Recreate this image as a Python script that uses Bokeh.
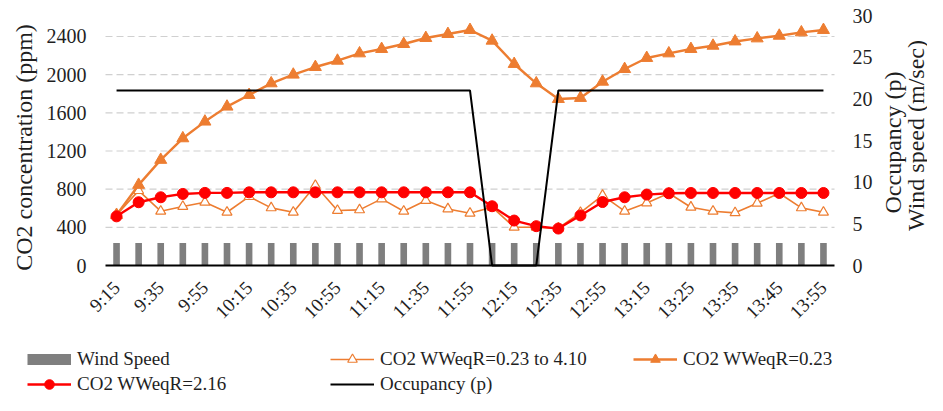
import math
from bokeh.plotting import figure
from bokeh.models import (ColumnDataSource, Range1d, LinearAxis, FixedTicker,
                          Legend, LegendItem, Label)
from bokeh.core.properties import value
from bokeh.embed import file_html
from bokeh.resources import INLINE

# ---- data ----
times = ["9:15", "9:25", "9:35", "9:45", "9:55", "10:05", "10:15", "10:25",
         "10:35", "10:45", "10:55", "11:05", "11:15", "11:25", "11:35", "11:45",
         "11:55", "12:05", "12:15", "12:25", "12:35", "12:45", "12:55", "13:05",
         "13:15", "13:20", "13:25", "13:30", "13:35", "13:40", "13:45", "13:50",
         "13:55"]
wind_speed = [2.7] * 33
occupancy = [21] * 17 + [0, 0, 0] + [21] * 13
co2_var = [530, 785, 569, 618, 663, 558, 722, 604, 558, 838, 576, 583, 698,
           569, 681, 593, 548, 611, 401, 401, 391, 555, 735, 569, 656, 757,
           611, 569, 552, 652, 757, 604, 558]
co2_023 = [530, 845, 1107, 1333, 1508, 1665, 1787, 1909, 2000, 2080, 2146,
           2223, 2269, 2321, 2384, 2426, 2468, 2356, 2112, 1909, 1745, 1756,
           1926, 2059, 2175, 2223, 2269, 2303, 2348, 2380, 2408, 2443, 2468]
co2_216 = [515, 663, 715, 750, 761, 761, 767, 767, 767, 767, 767, 767, 767,
           767, 767, 767, 767, 621, 471, 412, 387, 525, 665, 715, 743, 757,
           760, 760, 760, 760, 760, 760, 760]
left_ticks = [0, 400, 800, 1200, 1600, 2000, 2400]
right_ticks = [0, 5, 10, 15, 20, 25, 30]
LEFT_MAX = 2620
RIGHT_MAX = 30

FONT = "Liberation Serif"
TXT = "#1f1f1f"
ORANGE = "#ED7D31"
RED = "#FF0000"
GRAY = "#7F7F7F"


def set_font(obj, attr, font):
    try:
        setattr(obj, attr, value(font))
    except Exception:
        setattr(obj, attr, font)


# ---- layout (pixels) ----
W, H = 927, 395
PL, PR, PT, PB = 105, 834, 15, 265   # plot-area edges
n = len(times)
xpx = (PR - PL) / n                   # px per category
x0 = -0.5 - PL / xpx
x1 = n - 0.5 + (W - PR) / xpx
ly = LEFT_MAX / (PB - PT)
ry = RIGHT_MAX / (PB - PT)

x = list(range(n))
src = ColumnDataSource(dict(x=x, wind=wind_speed, occ=occupancy,
                            c1=co2_var, c2=co2_023, c3=co2_216))

p = figure(width=W, height=H, output_backend="svg", toolbar_location=None,
           x_range=Range1d(x0, x1),
           y_range=Range1d(-(H - PB) * ly, LEFT_MAX + PT * ly),
           min_border_left=0, min_border_right=0, min_border_top=0,
           min_border_bottom=0)
p.extra_y_ranges = {"right": Range1d(-(H - PB) * ry, RIGHT_MAX + PT * ry)}
p.outline_line_color = None
p.title.visible = False
p.xgrid.visible = False
p.ygrid.visible = False

# gridlines
p.segment(x0=[-0.5] * 6, x1=[n - 0.5] * 6, y0=left_ticks[1:], y1=left_ticks[1:],
          line_color="#D0D0D0", line_dash="7 4", line_width=1.2)

# glyphs
bars = p.vbar(x="x", top="wind", width=0.3, source=src, y_range_name="right",
              fill_color=GRAY, line_color=None)
l1 = p.line("x", "c1", source=src, line_color=ORANGE, line_width=1.6)
m1 = p.scatter("x", "c1", source=src, marker="triangle", size=10,
               fill_color="white", line_color=ORANGE, line_width=1.2)
l2 = p.line("x", "c2", source=src, line_color=ORANGE, line_width=2.4)
m2 = p.scatter("x", "c2", source=src, marker="triangle", size=12,
               fill_color=ORANGE, line_color=ORANGE)
l3 = p.line("x", "c3", source=src, line_color=RED, line_width=2.4)
m3 = p.scatter("x", "c3", source=src, marker="circle", size=11,
               fill_color=RED, line_color=RED)
l4 = p.line("x", "occ", source=src, y_range_name="right", line_color="black",
            line_width=2)
# legend swatch for the bars: a thick line whose single point is off-canvas
sw = p.line(x=[x1 + 50], y=[0], line_color=GRAY, line_width=11)

# x axis
xa = p.xaxis[0]
xa.fixed_location = 0
xa.bounds = (-0.5, n - 0.5)
xa.ticker = FixedTicker(ticks=list(range(0, n, 2)))
xa.major_label_overrides = {i: times[i] for i in range(0, n, 2)}
xa.major_label_orientation = math.pi / 4
xa.axis_line_color = "black"
xa.axis_line_width = 2
xa.major_tick_line_color = None
xa.minor_tick_line_color = None
xa.major_tick_out = 0
xa.major_tick_in = 0
xa.major_label_standoff = 19
xa.major_label_text_font = FONT
xa.major_label_text_font_size = "19px"
xa.major_label_text_color = TXT

# left axis
ya = p.yaxis[0]
ya.fixed_location = -0.5
ya.ticker = FixedTicker(ticks=left_ticks)
ya.axis_line_color = None
ya.major_tick_line_color = None
ya.minor_tick_line_color = None
ya.major_tick_out = 0
ya.major_tick_in = 0
ya.major_label_standoff = 19
ya.major_label_text_font = FONT
ya.major_label_text_font_size = "20px"
ya.major_label_text_color = TXT

# right axis
ra = LinearAxis(y_range_name="right", ticker=FixedTicker(ticks=right_ticks),
                fixed_location=n - 0.5)
ra.axis_line_color = None
ra.major_tick_line_color = None
ra.minor_tick_line_color = None
ra.major_tick_out = 0
ra.major_tick_in = 0
ra.major_label_standoff = 18
ra.major_label_text_font = FONT
ra.major_label_text_font_size = "20px"
ra.major_label_text_color = TXT
p.add_layout(ra, "right")

# axis titles
def title(text, sx, sy):
    lab = Label(x=sx, y=H - sy, x_units="screen", y_units="screen",
                text=text, angle=math.pi / 2, text_align="center",
                text_baseline="middle", text_font_size="24px",
                text_color=TXT)
    set_font(lab, "text_font", FONT)
    p.add_layout(lab)

title("CO2 concentration (ppm)", 23, 147)
title("Occupancy (p)", 892, 142)
title("Wind speed  (m/sec)", 915, 132)

# legends
def style(leg):
    leg.orientation = "horizontal"
    leg.border_line_color = None
    leg.background_fill_alpha = 0
    leg.padding = 0
    leg.margin = 0
    leg.spacing = 0
    leg.glyph_width = 44
    leg.glyph_height = 24
    leg.label_height = 20
    leg.label_standoff = 6
    leg.label_width = 253
    set_font(leg, "label_text_font", FONT)
    leg.label_text_font_size = "19px"
    leg.label_text_color = TXT

leg1 = Legend(items=[LegendItem(label="Wind Speed", renderers=[sw]),
                     LegendItem(label="CO2 WWeqR=0.23 to 4.10", renderers=[l1, m1]),
                     LegendItem(label="CO2 WWeqR=0.23", renderers=[l2, m2])],
              location=(27, H - 359 - 12))
leg2 = Legend(items=[LegendItem(label="CO2 WWeqR=2.16", renderers=[l3, m3]),
                     LegendItem(label="Occupancy (p)", renderers=[l4])],
              location=(27, H - 384 - 12))
style(leg1)
style(leg2)
p.add_layout(leg1)
p.add_layout(leg2)

open("out.html", "w").write(file_html(p, INLINE))
